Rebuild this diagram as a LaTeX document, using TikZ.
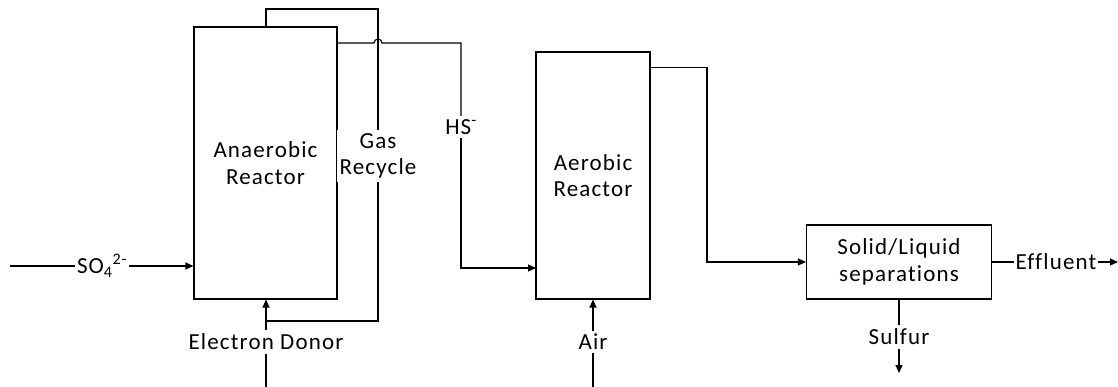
\documentclass[tikz,border=0pt]{standalone}
\usepackage{fontspec}
\setmainfont{Carlito}[Ligatures=NoCommon,LetterSpace=5]
\usetikzlibrary{arrows.meta}
\begin{document}
\begin{tikzpicture}[x=1pt,y=-1pt,
  line width=1.1pt,
  arr/.style={-{Triangle[length=8pt,width=7pt]}},
  unit/.style={draw,rectangle,inner sep=0pt,align=center,font=\fontsize{23}{26.5}\selectfont},
  lbl/.style={fill=white,inner sep=3pt,align=center,font=\fontsize{23}{26.5}\selectfont}]
\useasboundingbox (0,0) rectangle (1118,387);
% units
\node[unit,minimum width=143pt,minimum height=272pt] (ana) at (265.5,163) {Anaerobic\\Reactor};
\node[unit,minimum width=114pt,minimum height=247pt] (aer) at (593,175.5) {Aerobic\\Reactor};
\node[unit,minimum width=185pt,minimum height=74pt] (sep) at (899,262) {Solid/Liquid\\separations};
% labels
\node[lbl,inner sep=1pt] (so4) at (102,266) {SO\textsubscript{4}\textsuperscript{2-}};
\node[lbl] (ed) at (266,342) {Electron Donor};
\node[lbl] (air) at (593,342) {Air};
\node[lbl] (gas) at (378,156) {Gas\\Recycle};
\node[lbl] (hs) at (461,127) {HS\textsuperscript{-}};
\node[lbl,inner sep=1pt] (eff) at (1056,262) {Effluent};
\node[lbl] (sul) at (899,337) {Sulfur};
% coordinates
\coordinate (so4in) at (10,266);
\coordinate (edbot) at (266,387);
\coordinate (airbot) at (593,387);
\coordinate (gtl) at (266,9);
\coordinate (gtr) at (378,9);
\coordinate (gj) at (266,321);
\coordinate (hsa) at (337,43);
\coordinate (hsb) at (374,43);
\coordinate (hsc) at (461,43);
\coordinate (hsd) at (536,268);
\coordinate (aerout) at (650,67.7);
\coordinate (turn) at (707,262);
\coordinate (sulend) at (899,373);
\coordinate (effend) at (1118,262);
% connectors
\draw (so4in) -- (so4);
\draw[arr] (so4) -- (ana.west |- so4);
\draw (edbot) -- (ed);
\draw[arr] (ed) -- (ana.south -| ed);
\draw (ana.north -| gtl) -- (gtl) -- (gtr) -- (gas);
\draw (gas) |- (gj);
\draw (hsa) -- (hsb) arc[start angle=180,end angle=0,radius=4pt] -- (hsc) -- (hs);
\draw[arr] (hs) |- (hsd);
\draw[arr] (aerout) -| (turn) -- (sep.west);
\draw (airbot) -- (air);
\draw[arr] (air) -- (aer.south);
\draw (sep.south) -- (sul);
\draw[arr] (sul) -- (sulend);
\draw (sep.east) -- (eff);
\draw[arr] (eff) -- (effend);
\end{tikzpicture}
\end{document}
